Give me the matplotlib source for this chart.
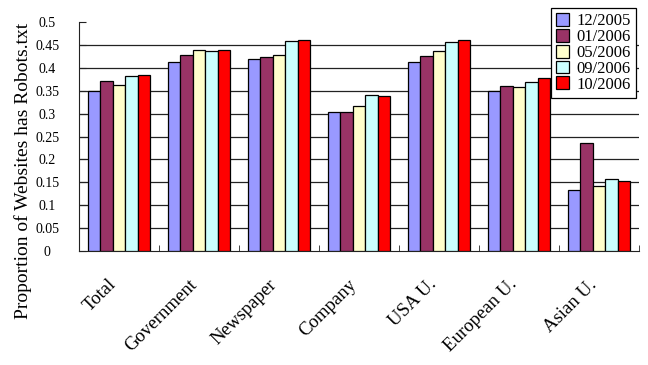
import numpy as np
import matplotlib.pyplot as plt
import matplotlib.transforms as mtrans

plt.rcParams['font.family'] = ['Liberation Serif', 'DejaVu Serif']

categories = ['Total', 'Government', 'Newspaper', 'Company', 'USA U.', 'European U.', 'Asian U.']
series = ['12/2005', '01/2006', '05/2006', '09/2006', '10/2006']
colors = ['#9999FF', '#993366', '#FFFFCC', '#CCFFFF', '#FF0000']

v_12_2005 = [0.350, 0.412, 0.419, 0.304, 0.412, 0.349, 0.134]
v_01_2006 = [0.371, 0.428, 0.423, 0.304, 0.425, 0.360, 0.236]
v_05_2006 = [0.362, 0.438, 0.428, 0.317, 0.436, 0.357, 0.143]
v_09_2006 = [0.382, 0.436, 0.458, 0.341, 0.456, 0.369, 0.158]
v_10_2006 = [0.384, 0.438, 0.460, 0.338, 0.460, 0.378, 0.154]
values = [v_12_2005, v_01_2006, v_05_2006, v_09_2006, v_10_2006]

yticks = [0, 0.05, 0.1, 0.15, 0.2, 0.25, 0.3, 0.35, 0.4, 0.45, 0.5]
ytick_labels = ['0', '0.05', '0.1', '0.15', '0.2', '0.25', '0.3', '0.35', '0.4', '0.45', '0.5']

fig = plt.figure(figsize=(6.48, 3.65), dpi=100)
ax = fig.add_axes([0.122, 0.312, 0.864, 0.628])

x = np.arange(len(categories))
w = 0.155
for i, (s, c) in enumerate(zip(series, colors)):
    ax.bar(x + (i - 2) * w, values[i], w, color=c, edgecolor='black',
           linewidth=0.9, label=s, zorder=3)

ax.set_xlim(-0.5, len(categories) - 0.5)
ax.set_ylim(0, 0.5)

# grid lines (no line at the top)
for y in yticks[1:-1]:
    ax.axhline(y, color='#222222', linewidth=0.9, zorder=1)

ax.spines['top'].set_visible(False)
ax.spines['right'].set_visible(False)
ax.spines['left'].set_color('#222222')
ax.spines['bottom'].set_color('#222222')

ax.set_yticks(yticks)
ax.set_yticklabels(ytick_labels, fontsize=10, ha='center')
ax.tick_params(axis='y', direction='in', length=5, pad=23, color='#222222')

ax.set_xticks(np.arange(len(categories) + 1) - 0.5, minor=True)
ax.tick_params(axis='x', which='minor', direction='in', length=4, color='#222222')
ax.set_xticks(x)
ax.set_xticklabels(categories, rotation=45, ha='right', va='top',
                   rotation_mode='anchor', fontsize=13.5)
ax.tick_params(axis='x', which='major', length=0, pad=0)
offset = mtrans.ScaledTranslation(-0.11, -0.25, fig.dpi_scale_trans)
for lab in ax.get_xticklabels():
    lab.set_transform(lab.get_transform() + offset)

fig.text(0.036, 1 - 171 / 365, 'Proportion of Websites has Robots.txt',
         rotation=90, ha='center', va='center', fontsize=14)

leg = ax.legend(loc='upper right', bbox_to_anchor=(0.995, 1.06), fontsize=12,
                frameon=True, fancybox=False, edgecolor='black', framealpha=1,
                borderpad=0.3, labelspacing=-0.02, handlelength=0.8,
                handleheight=0.8, handletextpad=0.45, borderaxespad=0)
leg.get_frame().set_linewidth(0.9)

fig.savefig('out.png', dpi=100)
